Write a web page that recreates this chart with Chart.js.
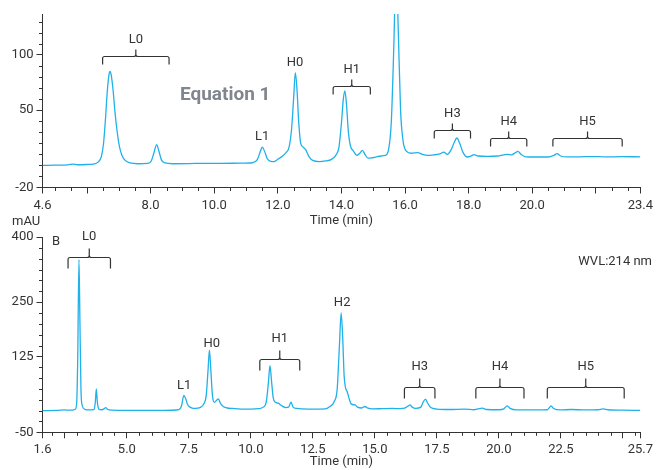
<!DOCTYPE html>
<html>
<head>
<meta charset="utf-8">
<script src="https://cdn.jsdelivr.net/npm/chart.js@4.4.1/dist/chart.umd.min.js"></script>
<style>
  html, body { margin: 0; padding: 0; background: #fff; }
  #wrap { position: relative; width: 657px; height: 470px; overflow: hidden; }
  canvas { position: absolute; left: 0; }
  #chartA { top: 0; }
  #chartB { top: 205px; }
</style>
</head>
<body>
<div id="wrap">
  <canvas id="chartA" width="657" height="230"></canvas>
  <canvas id="chartB" width="657" height="265"></canvas>
</div>
<script>
// ---- Chromatogram A (Equation 1) ----
const topTime = [
  4.6, 5.0, 5.4, 5.56, 5.7, 6.0, 6.2, 6.35, 6.45, 6.52, 6.58, 6.64, 6.69, 6.72, 6.76, 6.82, 6.88, 6.95,
  7.02, 7.1, 7.2, 7.35, 7.6, 7.9, 8.02, 8.1, 8.19, 8.26, 8.34, 8.45, 8.7, 9.2, 9.7, 10.2, 10.8, 11.2,
  11.35, 11.45, 11.51, 11.58, 11.67, 11.78, 11.87, 12.0, 12.15, 12.27, 12.35, 12.43, 12.5, 12.55, 12.6,
  12.66, 12.72, 12.8, 12.88, 12.98, 13.1, 13.3, 13.5, 13.69, 13.82, 13.92, 14.0, 14.06, 14.11, 14.16,
  14.22, 14.28, 14.38, 14.48, 14.58, 14.66, 14.74, 14.84, 14.95, 15.1, 15.25, 15.38, 15.48, 15.57,
  15.65, 15.72, 15.79, 15.86, 15.94, 16.04, 16.2, 16.4, 16.55, 16.7, 16.9, 17.1, 17.22, 17.33, 17.45,
  17.55, 17.63, 17.72, 17.82, 17.96, 18.08, 18.17, 18.3, 18.6, 18.9, 19.1, 19.22, 19.35, 19.47, 19.55,
  19.65, 19.8, 20.1, 20.5, 20.68, 20.78, 20.9, 21.1, 21.5, 21.9, 22.3, 22.8, 23.4
];
const topSignal = [
  0.0, 0.2, 0.5, 1.2, 0.6, 0.8, 1.2, 3, 8, 20, 42, 68, 82, 85, 82, 68, 48, 30,
  17, 9, 4.5, 2.2, 1.5, 1.8, 4, 11, 18.8, 13, 5, 2.2, 1.5, 1.6, 1.9, 1.9, 2.0, 2.4,
  5, 12.5, 16.6, 13, 6, 3.6, 3.4, 5.5, 8.5, 12, 16, 32, 62, 84, 70,
  38, 20, 16.5, 14, 8, 4.5, 3.5, 4, 5.5, 9, 16, 38, 60, 67.5, 55,
  30, 18, 13, 9, 11, 13.6, 10, 6.5, 6.8, 7.8, 8.5, 9, 14, 40,
  110, 185, 120, 50, 22, 13, 11, 11.5, 10, 9, 9.5, 10.5, 12, 10, 14,
  21, 24.8, 20, 12, 7.6, 8.5, 9.7, 8.5, 8.2, 8.5, 9.5, 10, 9.5, 11.5, 12.7,
  10, 7.8, 7.6, 7.6, 9, 10.6, 8.5, 7.7, 7.8, 8, 7.7, 7.9, 7.8
];
const topXTicks = [4.6, 6, 8, 10, 12, 14, 16, 18, 20, 22, 23.4];
const topXTickLabels = ['4.6', '', '8.0', '10.0', '12.0', '14.0', '16.0', '18.0', '20.0', '', '23.4'];
const topYTicks = [-20, 50, 100];
const topYTickLabels = ['-20', '50', '100'];
// [label, from (min), to (min), level (mAU)]
const topBrackets = [
  ['L0', 6.49, 8.58, 99.1],
  ['H1', 13.74, 14.91, 71.9],
  ['H3', 16.92, 18.06, 32.1],
  ['H4', 18.69, 19.83, 24.8],
  ['H5', 20.65, 22.83, 24.8]
];
// [label, time (min), level (mAU)]
const topPeakLabels = [
  ['L1', 11.51, 25.7],
  ['H0', 12.54, 92.8]
];

// ---- Chromatogram B (214 nm) ----
const bottomTime = [
  1.6, 2.2, 2.5, 2.6, 2.8, 2.92, 2.98, 3.02, 3.07, 3.11, 3.15, 3.2, 3.3, 3.5, 3.68, 3.73, 3.77, 3.81,
  3.88, 4.0, 4.1, 4.15, 4.22, 4.4, 5.0, 6.0, 6.8, 7.1, 7.2, 7.3, 7.37, 7.45, 7.55, 7.7, 7.85, 7.95,
  8.1, 8.2, 8.27, 8.33, 8.38, 8.45, 8.53, 8.62, 8.69, 8.78, 8.9, 9.05, 9.25, 9.6, 10.0, 10.3, 10.5,
  10.62, 10.7, 10.77, 10.83, 10.9, 10.99, 11.1, 11.25, 11.4, 11.52, 11.62, 11.7, 11.85, 12.1, 12.5,
  13.0, 13.2, 13.35, 13.48, 13.57, 13.64, 13.7, 13.76, 13.82, 13.88, 13.95, 14.05, 14.2, 14.3, 14.45,
  14.6, 14.72, 14.9, 15.3, 15.7, 16.0, 16.2, 16.35, 16.42, 16.5, 16.65, 16.85, 16.95, 17.04, 17.12,
  17.25, 17.5, 18.0, 18.6, 19.0, 19.33, 19.5, 20.0, 20.2, 20.33, 20.45, 20.7, 21.5, 21.95, 22.05,
  22.1, 22.2, 22.5, 22.9, 23.5, 24.0, 24.2, 24.4, 25.0, 25.7
];
const bottomSignal = [
  0, 0.5, 1.5, 1, 1, 3, 20, 120, 348, 200, 50, 12, 3, 1.5, 3, 20, 50, 20,
  3, 2, 5, 7, 3, 1, 0.5, 0.5, 0.8, 2, 10, 35, 28, 14, 8, 5, 5.5, 7,
  15, 35, 90, 139, 100, 35, 19, 24, 27, 16, 9, 6, 5, 3.5, 3.5, 4.5, 8,
  20, 60, 103.5, 70, 30, 19, 17, 11, 7, 8, 19.6, 8, 5, 4, 3.5,
  4, 10, 20, 50, 150, 225, 170, 80, 52, 44, 30, 15, 13, 8, 6,
  9.5, 5.5, 4, 4.5, 5, 4.5, 5.5, 11, 13, 8, 5, 8, 20, 26.5, 18,
  7, 3.5, 2.5, 3.5, 2, 5.5, 2.5, 2, 4, 11, 5, 1.5, 1.5, 2, 8,
  11, 5, 1.5, 2.5, 1.5, 2, 3.8, 2, 1, 0.5
];
const bottomXTicks = [1.6, 2.5, 5, 7.5, 10, 12.5, 15, 17.5, 20, 22.5, 25, 25.7];
const bottomXTickLabels = ['1.6', '', '5.0', '7.5', '10.0', '12.5', '15.0', '17.5', '20.0', '22.5', '', '25.7'];
const bottomYTicks = [-50, 125, 250, 400];
const bottomYTickLabels = ['-50', '125', '250', '400'];
const bottomBrackets = [
  ['L0', 2.63, 4.34, 354],
  ['H1', 10.36, 11.97, 119.8],
  ['H3', 16.19, 17.42, 54.4],
  ['H4', 19.07, 21.01, 54.4],
  ['H5', 21.95, 25.05, 54.4]
];
const bottomPeakLabels = [
  ['L1', 7.31, 58.3],
  ['H0', 8.42, 155],
  ['H2', 13.68, 249.5]
];

const FONT = 'Roboto, "Liberation Sans", Arial, sans-serif';
const INK = '#333333';
const TRACE = '#1fb1ea';

// Minor tick marks plus peak brackets and labels, placed through the chart scales.
const decorations = {
  id: 'decorations',
  afterDraw(chart, args, o) {
    const { ctx, chartArea: ca, scales } = chart;
    const xs = scales.x, ys = scales.y;
    ctx.save();
    ctx.strokeStyle = INK;
    ctx.lineWidth = 1;
    // minor ticks
    ctx.beginPath();
    for (let v = o.xMinorStart; v <= o.xMinorEnd + 1e-9; v += o.xMinorStep) {
      if (o.xMajor.some(m => Math.abs(m - v) < 1e-6)) continue;
      const px = Math.round(xs.getPixelForValue(v)) + 0.5;
      ctx.moveTo(px, ca.bottom);
      ctx.lineTo(px, ca.bottom + o.minorLen);
    }
    for (let v = o.yMinorStart; v <= o.yMinorEnd + 1e-9; v += o.yMinorStep) {
      if (o.yMajor.some(m => Math.abs(m - v) < 1e-6)) continue;
      const py = Math.round(ys.getPixelForValue(v)) + 0.5;
      ctx.moveTo(ca.left, py);
      ctx.lineTo(ca.left - o.minorLen, py);
    }
    ctx.stroke();

    // brackets
    ctx.lineWidth = 1.2;
    ctx.fillStyle = INK;
    ctx.font = '13px ' + FONT;
    ctx.textAlign = 'center';
    ctx.textBaseline = 'middle';
    const r = 2;
    for (const [label, from, to, level] of o.brackets) {
      const x0 = xs.getPixelForValue(from);
      const x1 = xs.getPixelForValue(to);
      const y = Math.round(ys.getPixelForValue(level)) + 0.5;
      const xm = (x0 + x1) / 2;
      ctx.beginPath();
      ctx.moveTo(x0, y + o.drop);
      ctx.lineTo(x0, y + r);
      ctx.quadraticCurveTo(x0, y, x0 + r, y);
      ctx.lineTo(xm - r, y);
      ctx.quadraticCurveTo(xm, y, xm, y - r);
      ctx.lineTo(xm, y - o.notch);
      ctx.moveTo(xm, y - r);
      ctx.quadraticCurveTo(xm, y, xm + r, y);
      ctx.lineTo(x1 - r, y);
      ctx.quadraticCurveTo(x1, y, x1, y + r);
      ctx.lineTo(x1, y + o.drop);
      ctx.stroke();
      ctx.fillText(label, xm, y - o.labelGap);
    }
    for (const [label, t, level] of o.peakLabels) {
      ctx.fillText(label, xs.getPixelForValue(t), ys.getPixelForValue(level));
    }
    // free text
    for (const tx of o.texts) {
      ctx.font = tx.font;
      ctx.fillStyle = tx.color;
      ctx.textAlign = tx.align;
      ctx.fillText(tx.text, tx.x, tx.y);
    }
    ctx.restore();
  }
};

function makeChart(id, s) {
  const points = s.time.map((t, i) => ({ x: t, y: s.signal[i] }));
  return new Chart(document.getElementById(id), {
    type: 'line',
    data: { datasets: [{
      data: points,
      borderColor: TRACE,
      borderWidth: 1.3,
      pointRadius: 0,
      fill: false,
      cubicInterpolationMode: 'monotone'
    }] },
    options: {
      responsive: false,
      animation: false,
      events: [],
      layout: { padding: { left: 0, right: s.padRight, top: s.padTop, bottom: 0 } },
      plugins: { legend: { display: false }, tooltip: { enabled: false }, decorations: s.deco },
      scales: {
        x: {
          type: 'linear',
          min: s.xMin, max: s.xMax,
          afterBuildTicks: sc => { sc.ticks = s.xTicks.map(v => ({ value: v })); },
          afterFit: sc => { sc.height = s.xAxisHeight; },
          ticks: {
            autoSkip: false, maxRotation: 0, padding: 4,
            color: INK, font: { family: FONT, size: 13 },
            callback: (v, i) => s.xTickLabels[i]
          },
          grid: { display: true, drawOnChartArea: false, drawTicks: true, tickLength: 6, color: INK, lineWidth: 1 },
          border: { display: true, color: INK, width: 1 },
          title: { display: true, text: 'Time (min)', color: INK, font: { family: FONT, size: 13 }, padding: { top: 0, bottom: s.titlePad } }
        },
        y: {
          type: 'linear',
          min: s.yMin, max: s.yMax,
          afterBuildTicks: sc => { sc.ticks = s.yTicks.map(v => ({ value: v })); },
          afterFit: sc => { sc.width = 42.5; },
          ticks: {
            autoSkip: false, padding: 3,
            color: INK, font: { family: FONT, size: 13 },
            callback: (v, i) => s.yTickLabels[i]
          },
          grid: { display: true, drawOnChartArea: false, drawTicks: true, tickLength: 6, color: INK, lineWidth: 1 },
          border: { display: true, color: INK, width: 1 }
        }
      }
    },
    plugins: [decorations]
  });
}

makeChart('chartA', {
  time: topTime, signal: topSignal,
  xMin: 4.6, xMax: 23.4, yMin: -20, yMax: 137,
  xTicks: topXTicks, xTickLabels: topXTickLabels,
  yTicks: topYTicks, yTickLabels: topYTickLabels,
  padTop: 14, padRight: 14.3, xAxisHeight: 42.5, titlePad: 1.5,
  deco: {
    xMinorStart: 5, xMinorEnd: 23, xMinorStep: 0.5, xMajor: topXTicks,
    yMinorStart: -20, yMinorEnd: 130, yMinorStep: 10, yMajor: topYTicks,
    minorLen: 3.5, drop: 8, notch: 7, labelGap: 17,
    brackets: topBrackets, peakLabels: topPeakLabels,
    texts: [
      { text: 'Equation 1', x: 180, y: 95, align: 'left', color: '#80868d', font: 'bold 19px ' + FONT }
    ]
  }
});

makeChart('chartB', {
  time: bottomTime, signal: bottomSignal,
  xMin: 1.6, xMax: 25.7, yMin: -50, yMax: 400,
  xTicks: bottomXTicks, xTickLabels: bottomXTickLabels,
  yTicks: bottomYTicks, yTickLabels: bottomYTickLabels,
  padTop: 32, padRight: 14.3, xAxisHeight: 37.7, titlePad: 0.2,
  deco: {
    xMinorStart: 2, xMinorEnd: 25.5, xMinorStep: 0.5, xMajor: bottomXTicks,
    yMinorStart: -50, yMinorEnd: 400, yMinorStep: 25, yMajor: bottomYTicks,
    minorLen: 3.5, drop: 11, notch: 9, labelGap: 21,
    brackets: bottomBrackets, peakLabels: bottomPeakLabels,
    texts: [
      { text: 'mAU', x: 12, y: 17, align: 'left', color: INK, font: '13px ' + FONT },
      { text: 'B', x: 52, y: 37, align: 'left', color: INK, font: '13px ' + FONT },
      { text: 'WVL:214 nm', x: 652, y: 57, align: 'right', color: INK, font: '13px ' + FONT }
    ]
  }
});
</script>
</body>
</html>
